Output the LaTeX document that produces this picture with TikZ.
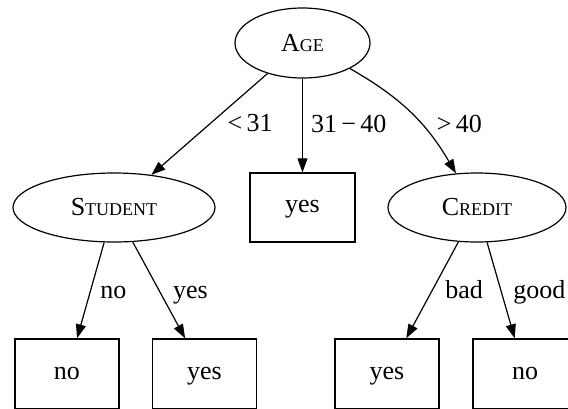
\documentclass[tikz,border=0pt]{standalone}
\usepackage{fontspec}
\setmainfont{Liberation Serif}
\usepackage{tikz}
\usetikzlibrary{shapes.geometric, arrows.meta}
\newcommand{\fakesc}[2]{#1{\fontsize{9}{9}\selectfont #2}}
\tikzstyle{attr}  = [ellipse, draw=black, line width=0.6pt, inner sep=0pt,
                     minimum height=34.5pt, font=\fontsize{13}{15}\selectfont]
\tikzstyle{leaf}  = [rectangle, draw=black, line width=0.7pt, minimum width=52pt,
                     minimum height=35pt, text centered, text height=1.5ex, text depth=0.4ex,
                     font=\fontsize{13}{15}\selectfont]
\tikzstyle{arrow} = [line width=0.6pt, -{Triangle[length=7pt, width=5pt]}]
\tikzstyle{lbl}   = [inner sep=0pt, anchor=west, text height=1.5ex, text depth=0.4ex,
                     font=\fontsize{13}{15}\selectfont]

\begin{document}
\begin{tikzpicture}[x=0.5pt, y=-0.5pt]
    \useasboundingbox (0,0) rectangle (568,408);
    \node (age)     [attr, minimum width=67.5pt, minimum height=35pt] at (302.5,43) {\fakesc{A}{GE}};
    \node (student) [attr, minimum width=101pt] at (114,207.5) {\fakesc{S}{TUDENT}};
    \node (mid)     [leaf, minimum width=52.5pt, minimum height=34.5pt] at (302.5,207.5) {yes};
    \node (credit)  [attr, minimum width=89pt] at (477,207.5) {\fakesc{C}{REDIT}};

    \node (sno)  [leaf] at (67,374)    {no};
    \node (syes) [leaf] at (204.5,374) {yes};
    \node (cyes) [leaf] at (387,374)   {yes};
    \node (cno)  [leaf] at (525,374)   {no};

    \draw [arrow] (age) -- node[lbl, pos=0.52, xshift=10pt] {<\,31} (student);
    \draw [arrow] (age) -- node[lbl, pos=0.52, xshift=4pt] {31\,−\,40} (mid);
    \draw [arrow] (age) to[bend left=15] node[lbl, pos=0.64, xshift=6pt] {>\,40} (credit);

    \draw [arrow] (student) -- node[lbl, pos=0.53, xshift=5pt] {no} (sno);
    \draw [arrow] (student) -- node[lbl, pos=0.53, xshift=6pt] {yes} (syes);
    \draw [arrow] (credit) -- node[lbl, pos=0.53, xshift=7pt] {bad} (cyes);
    \draw [arrow] (credit) -- node[lbl, pos=0.53, xshift=5.5pt] {good} (cno);
\end{tikzpicture}
\end{document}
